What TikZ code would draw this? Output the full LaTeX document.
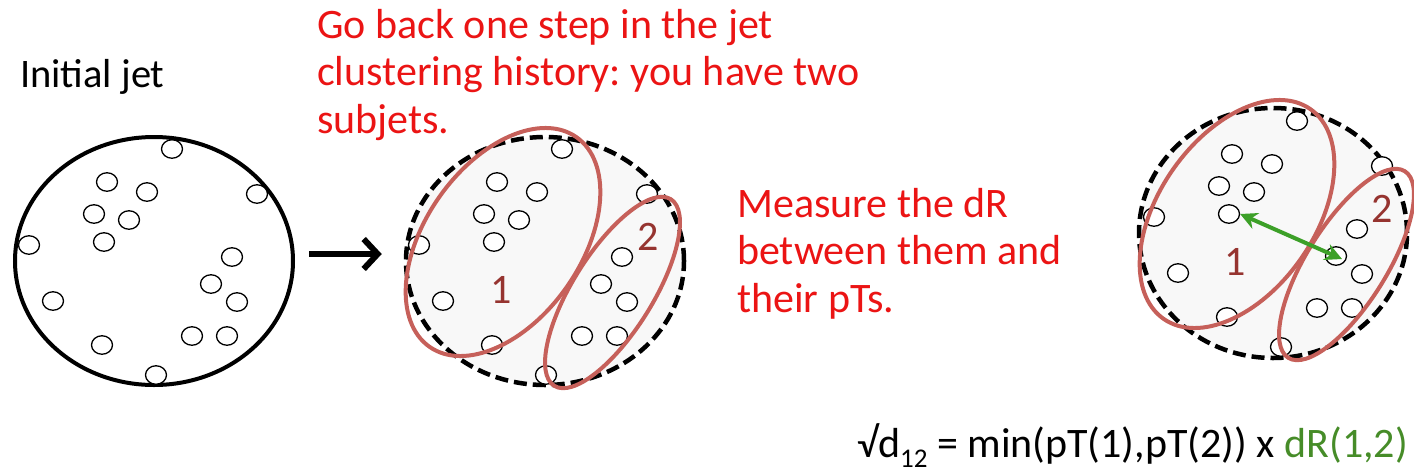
\documentclass[tikz,border=0pt]{standalone}
\usepackage{fontspec}
\setmainfont{Carlito}
\usetikzlibrary{shapes.geometric,arrows.meta}
\definecolor{txtred}{RGB}{235,20,20}
\definecolor{subred}{RGB}{198,96,90}
\definecolor{labred}{RGB}{150,52,48}
\definecolor{arrgreen}{RGB}{60,160,40}
\definecolor{txtgreen}{RGB}{70,140,40}
\definecolor{jetfill}{RGB}{248,248,248}
\frenchspacing
\begin{document}
\begin{tikzpicture}[x=1pt,y=-1pt,
  dot/.style={draw=black, fill=white, ellipse, line width=1.3pt, minimum width=21pt, minimum height=18.5pt, inner sep=0pt},
  jetsolid/.style={draw=black, ellipse, line width=4pt, inner sep=0pt},
  jetdash/.style={draw=black, fill=jetfill, ellipse, line width=4.5pt, dash pattern=on 13pt off 6pt, inner sep=0pt},
  subjet/.style={draw=subred, line width=4pt},
  lab/.style={text=labred, font=\fontsize{42}{42}\selectfont, inner sep=0pt},
  redtxt/.style={text=txtred, font=\fontsize{42}{47.5}\selectfont, align=left, inner sep=0pt, anchor=base west},
  bigarrow/.style={line width=6pt, -{Straight Barb[length=14pt,width=30pt,line width=6pt]}},
  greenarrow/.style={draw=arrgreen, line width=4pt, {Stealth[length=17pt,width=17pt]}-{Stealth[length=17pt,width=17pt]}}
]
\useasboundingbox (0,0) rectangle (1414,472);

% jets
\node[jetsolid, minimum width=278pt, minimum height=248pt] (jet0) at (154,261) {};
\node[jetdash, minimum width=278pt, minimum height=248pt] (jet1) at (545,261) {};
\node[jetdash, minimum width=268pt, minimum height=250pt] (jet2) at (1273,233) {};

% particles
\foreach \p/\dx/\dy in {a/0/0, b/390/0, c/1125/-28}{
  \begin{scope}[shift={(\dx,\dy)}]
  \foreach \i/\x/\y in {1/172/149, 2/107/182, 3/147/192, 4/94/214, 5/129/220, 6/104/242,
      7/29/245, 8/257/194, 9/232/257, 10/211/284, 11/237/302, 12/53/301,
      13/192/336, 14/227/336, 15/102/345, 16/156/375}{
    \node[dot] (\p\i) at (\x,\y) {};
  }
  \end{scope}
}

% subjets
\draw[subjet, rotate around={55:(503,242)}] (503,242) ellipse [x radius=128pt, y radius=78pt];
\draw[subjet, rotate around={58:(612.5,292.5)}] (612.5,292.5) ellipse [x radius=110pt, y radius=40pt];
\draw[subjet, rotate around={55:(1237,214)}] (1237,214) ellipse [x radius=128pt, y radius=78pt];
\draw[subjet, rotate around={58:(1346.5,264.5)}] (1346.5,264.5) ellipse [x radius=110pt, y radius=40pt];

\node[lab] (l1b) at (501,290) {1};
\node[lab] (l2b) at (648,237) {2};
\node[lab] (l1c) at (1235,262) {1};
\node[lab] (l2c) at (1382,209) {2};

% arrows
\draw[bigarrow, shorten <=14pt, shorten >=22pt] ([yshift=7pt]jet0.east) -- ([yshift=7pt]jet1.west);
\draw[greenarrow] (c6.east) -- ([xshift=6pt,yshift=-3pt]c10.center);

% texts
\node[anchor=base west, inner sep=0pt, font=\fontsize{40.5}{46}\selectfont] (t0) at (20,87) {Initial jet};
\node[redtxt] (t1) at (317,133) {Go back one step in the jet\\clustering history: you have two\\subjets.};
\node[redtxt] (t2) at (737,312) {Measure the dR\\between them and\\their pTs.};
\node[anchor=base west, inner sep=0pt, font=\fontsize{42}{47}\selectfont] (f) at (857,457)
  {√d\raisebox{-10pt}{\fontsize{27}{27}\selectfont 12} = min(pT(1),pT(2)) x \textcolor{txtgreen}{dR(1,2)}};
\end{tikzpicture}
\end{document}
